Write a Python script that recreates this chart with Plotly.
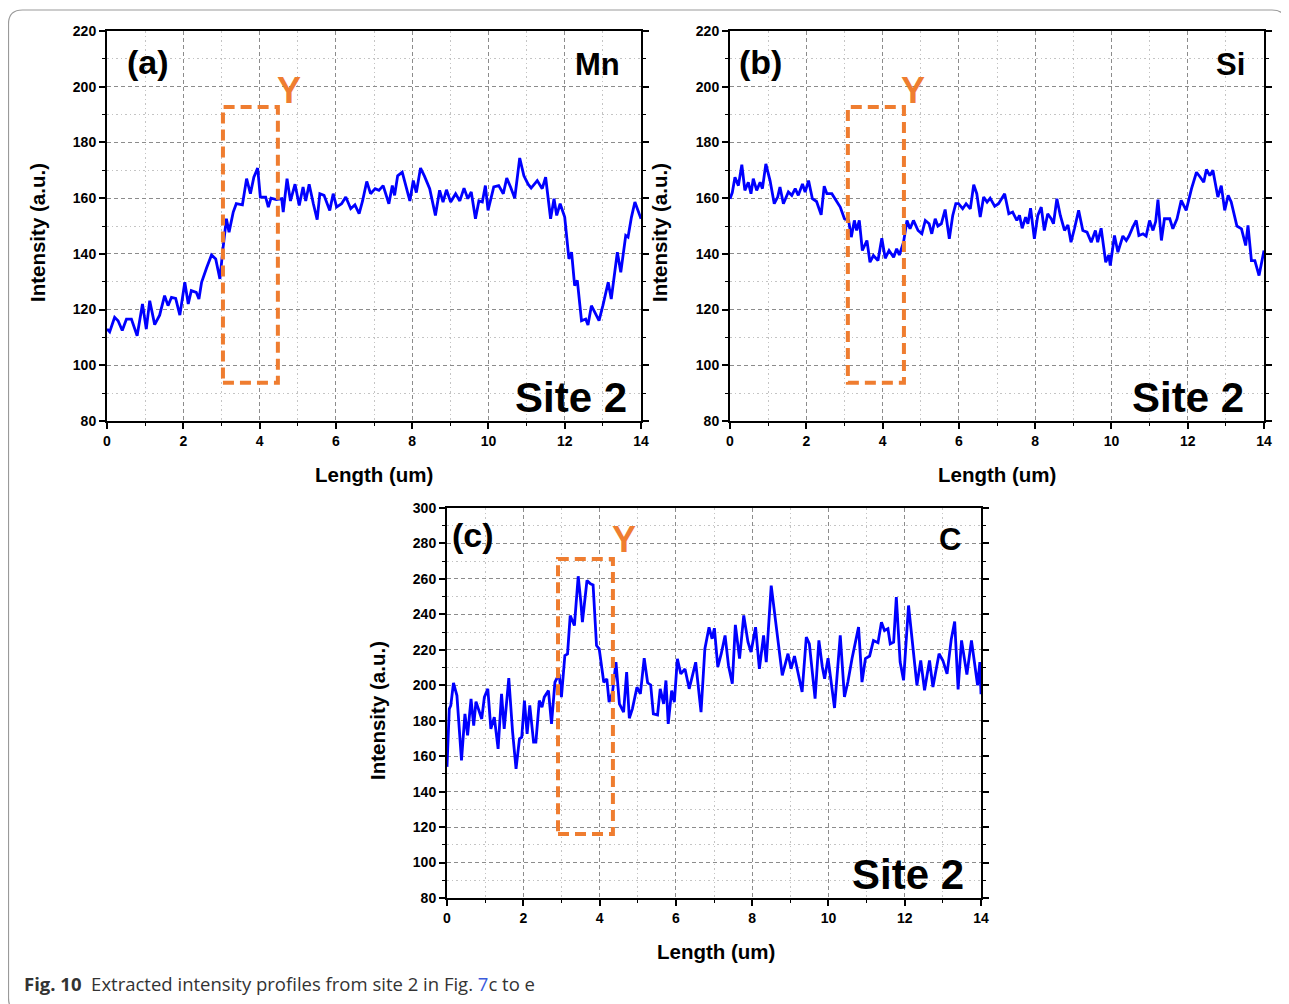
import plotly.graph_objects as go

# ---------------- data ----------------
a_x = [0.00,0.07,0.20,0.29,0.40,0.51,0.64,0.79,0.93,1.03,1.12,1.25,1.38,1.51,1.60,1.69,1.80,1.91,2.04,2.13,
       2.21,2.34,2.41,2.48,2.61,2.74,2.85,2.96,3.04,3.13,3.20,3.31,3.39,3.55,3.66,3.76,3.85,3.95,4.02,4.16,
       4.23,4.30,4.44,4.58,4.62,4.72,4.81,4.93,5.04,5.14,5.21,5.30,5.41,5.51,5.58,5.69,5.84,5.93,6.02,6.15,
       6.26,6.39,6.50,6.61,6.70,6.81,6.91,7.03,
       7.13,7.24,7.39,7.48,7.54,7.62,7.74,7.83,7.94,8.03,8.11,8.22,8.32,8.46,8.61,8.72,8.81,8.90,9.01,9.14,
       9.25,9.36,9.46,9.55,9.66,9.75,9.84,9.92,9.99,10.14,10.27,10.39,10.48,10.58,10.69,10.82,10.93,11.04,11.12,11.28,
       11.41,11.50,11.63,11.72,11.79,11.88,12.00,12.11,12.18,12.26,12.33,12.44,12.55,12.61,12.70,12.79,12.90,13.00,13.14,13.22,
       13.38,13.47,13.60,13.66,13.75,13.84,13.91,14.00]
a_y = [113,112,117.2,116,112.5,116.6,116.6,110.6,122,113,123.2,114.6,118,125,121.4,124.4,124,118,129.8,122,
       126.8,126.2,123.8,129.8,134.9,139.6,138.2,131,141.8,152.6,147.8,155,158,157.6,167,161.6,167.5,170.8,160.4,160.4,
       156.8,160,159.5,159.8,155,167,159,165,157.4,164,159,165,158,152.3,161.6,161,155.6,161.6,156.8,158,
       160.4,156.2,157.6,154.4,159,166,161.6,163.4,
       162.8,164.5,158,164.5,161,168,169.3,164.5,159,166.3,162,170.8,168,163.4,153.8,162.8,158.6,163,158.6,161.6,
       159,163.6,159.8,162.2,152.6,159,158.6,164.5,155.6,164,164.5,161.6,167.2,164,160,174.4,168,165,163.6,166.3,
       163.4,167.5,152.6,159.8,153.8,158,153.2,138.2,140.6,128.6,130.5,116,116.6,114.5,121.4,119,116,121.4,129.8,123.8,
       140.6,133.4,146.6,146,153.2,158.6,156.2,152.6]

b_x = [0.00,0.06,0.13,0.22,0.31,0.39,0.48,0.55,0.61,0.70,0.79,0.85,0.94,1.05,1.16,1.25,1.31,1.40,1.53,1.62,
       1.71,1.79,1.90,1.97,2.06,2.16,2.27,2.39,2.47,2.54,2.67,2.76,2.89,3.00,3.11,3.18,3.26,3.32,3.39,3.47,
       3.59,3.67,3.76,3.88,3.98,4.07,4.17,4.29,4.37,4.44,4.55,4.64,4.72,4.81,4.93,5.03,5.12,5.22,5.29,5.38,
       5.45,5.54,5.64,5.75,5.84,5.92,5.99,6.10,6.19,6.30,6.39,6.47,6.56,6.65,6.74,6.82,6.94,7.04,
       7.20,7.31,7.41,7.52,7.59,7.66,7.75,7.81,7.88,7.98,8.07,8.16,8.24,8.33,8.42,8.48,8.57,8.66,8.77,8.86,
       8.94,9.03,9.14,9.25,9.36,9.47,9.58,9.64,9.73,9.85,9.93,9.97,10.08,10.17,10.30,10.39,10.46,10.56,10.65,10.72,
       10.83,10.91,11.00,11.09,11.16,11.22,11.31,11.39,11.53,11.61,11.72,11.83,11.96,12.10,12.23,12.33,12.42,12.49,12.58,12.66,
       12.79,12.88,12.97,13.06,13.14,13.29,13.41,13.52,13.58,13.67,13.76,13.87,13.96,14.00]
b_y = [159.8,162,167.5,164.5,172,162.8,165.7,161.6,167,162.8,165.7,163.4,172.3,166.3,158,160.4,164,158,162.2,161,
       163.4,161,165.1,162.2,166.3,159.8,158.8,154,164.3,161.6,161.6,159.8,156.8,152.6,152,146,152,148.4,152,141.2,
       144.8,137,139.4,137.6,145.6,138.4,141.2,138.8,141.8,139.6,144.2,152,149,152,148.4,147.2,152,150.8,147.2,152.6,
       150,150.8,155.9,145.4,153.8,158,158,156.2,158,156.2,164.8,161.6,153.2,160.4,158.6,160,157.1,158,
       161.6,154.4,155,152,153.8,149.2,153.2,150.8,156.4,145.4,153.8,156.8,148.4,154.4,152.6,150.8,159.8,153.8,148.4,150.4,
       144.2,149,155.6,148.4,147.8,144.2,148.4,144.2,149.2,137,139.6,135.8,146.6,140.6,146.4,144.8,146.4,149.6,152,146.6,
       147.2,146.4,152,148.4,151.6,159.5,144.8,152.6,152.6,149,152.6,159.2,155.6,163.4,169.3,167.5,165.7,170.3,168.1,170,
       160.4,164.5,155.6,161,158.6,150,149,143,150.2,137.6,137.6,132.2,138.2,141.2]

c_x = [0.00,0.06,0.10,0.17,0.26,0.38,0.47,0.54,0.63,0.70,0.76,0.85,0.91,0.98,1.07,1.15,1.24,1.34,1.43,1.50,
       1.62,1.72,1.81,1.90,1.96,2.03,2.10,2.17,2.27,2.33,2.42,2.49,2.55,2.66,2.74,2.83,2.94,3.00,3.09,3.16,
       3.23,3.34,3.44,3.51,3.55,3.67,3.76,3.83,3.92,3.99,4.11,4.19,4.25,4.34,4.43,4.52,4.63,4.71,4.78,4.86,
       4.98,5.07,5.17,5.26,5.34,5.41,5.52,5.59,5.68,5.74,5.80,5.89,5.96,6.04,6.13,6.24,6.35,6.52,6.66,6.76,6.87,
       6.95,7.01,7.10,7.19,7.29,7.38,7.48,7.56,7.67,7.78,7.89,7.97,8.09,8.19,8.30,8.37,8.50,8.63,8.79,8.94,
       9.02,9.11,9.20,9.31,9.42,9.50,9.65,9.75,9.84,9.90,9.99,10.16,10.31,10.42,10.51,10.62,10.79,10.88,10.97,11.08,
       11.18,11.30,11.39,11.47,11.56,11.62,11.71,11.78,11.88,11.97,12.10,12.20,12.32,12.42,12.52,12.65,12.74,12.90,13.00,13.11,
       13.22,13.31,13.40,13.49,13.63,13.75,13.91,13.97,14.00]
c_y = [154,186.7,188.6,201.4,194.2,157.6,183.9,171.7,192.3,177.3,190.8,184.8,181,193.3,198,175.4,182,164.1,195.2,175.4,
       204,173.5,152.9,169.8,170.7,191.4,172.6,188.6,167.9,167.9,191.4,187.6,193.3,197,178.2,201.7,206.4,193.3,216.8,217.7,
       239.3,233.7,261.5,246.8,235.6,259.1,257.2,256.6,222.4,220.5,201.7,203.6,190.5,196.1,213,189.5,184.8,207.4,181.4,186.7,
       198.9,195.2,215.3,201.4,200.2,183.9,183.3,198,189.5,202.7,178.2,197,190.5,214.9,206.4,209.2,198,213,184.8,220.5,232.7,
       226.2,232.2,210.3,217.8,228.1,211.2,200.9,234.1,215,239.4,224.4,218.7,232.8,209.3,228.1,213.1,256.2,233.7,205.6,217.8,
       209.3,216.5,207.5,196.2,227.2,223.4,192.5,225.3,210.3,203.7,215.3,187.2,228.1,193.4,201.8,215.3,232.8,201.8,215,216.5,
       225.3,224,235.6,230.9,231.9,223.4,224.4,249.7,213.1,202.8,245,223.4,200,214,197.2,214,199,217.8,214,206.5,
       225.9,236,197.7,225.3,206,225.3,200,213.1,195]

# dashed "Y" region boxes: [x0, x1, y0, y1]
box_a = [3.04, 4.48, 93.7, 192.7]
box_b = [3.09, 4.56, 93.7, 192.7]
box_c = [2.91, 4.35, 116.1, 271.2]

panel_labels = ["(a)", "(b)", "(c)"]
element_labels = ["Mn", "Si", "C"]
site_label = "Site 2"
x_title = "Length (um)"
y_title = "Intensity (a.u.)"

# ---------------- layout helpers ----------------
# the page body has an 8px margin, so map screen pixels to paper coords with that offset
OFF = 8
W, H = 1281, 996
def px(x):
    return (x - OFF) / W
def py(y):
    return 1 - (y - OFF) / H

LINE = "#0000ff"
ORANGE = "#ef7d30"
TICKFONT = dict(family="Liberation Sans, Arial", size=14, color="black", weight="bold")

fig = go.Figure()
fig.add_trace(go.Scatter(x=a_x, y=a_y, mode="lines", line=dict(color=LINE, width=2.8), xaxis="x", yaxis="y", showlegend=False))
fig.add_trace(go.Scatter(x=b_x, y=b_y, mode="lines", line=dict(color=LINE, width=2.8), xaxis="x2", yaxis="y2", showlegend=False))
fig.add_trace(go.Scatter(x=c_x, y=c_y, mode="lines", line=dict(color=LINE, width=2.8), xaxis="x3", yaxis="y3", showlegend=False))

def xax(dom, anchor):
    return dict(domain=dom, anchor=anchor, range=[0, 14], dtick=2, tick0=0,
                ticks="outside", ticklen=6, tickwidth=1.5, tickcolor="black",
                showline=True, linewidth=2, linecolor="black", mirror=True,
                showgrid=True, gridcolor="#8c8c8c", gridwidth=1, griddash="4px,3px",
                minor=dict(dtick=1, tick0=0, ticks="outside", ticklen=3, tickwidth=1.2, tickcolor="black",
                           showgrid=True, gridcolor="#c4c4c4", gridwidth=1, griddash="1.5px,3px"),
                zeroline=False, tickfont=TICKFONT, fixedrange=True, automargin=False)

def yax(dom, anchor, rng):
    return dict(domain=dom, anchor=anchor, range=rng, dtick=20, tick0=80,
                ticks="outside", ticklen=6, tickwidth=1.5, tickcolor="black",
                showline=True, linewidth=2, linecolor="black", mirror="ticks",
                showgrid=True, gridcolor="#8c8c8c", gridwidth=1, griddash="4px,3px",
                minor=dict(dtick=10, tick0=80, ticks="outside", ticklen=3, tickwidth=1.2, tickcolor="black",
                           showgrid=True, gridcolor="#c4c4c4", gridwidth=1, griddash="1.5px,3px"),
                zeroline=False, tickfont=TICKFONT, fixedrange=True, automargin=False)

fig.update_layout(
    width=W, height=H, margin=dict(l=0, r=0, t=0, b=0, pad=0, autoexpand=False),
    paper_bgcolor="white", plot_bgcolor="white",
    xaxis=xax([px(107), px(641)], "y"),
    yaxis=yax([py(421), py(31)], "x", [80, 220]),
    xaxis2=xax([px(730), px(1264)], "y2"),
    yaxis2=yax([py(421), py(31)], "x2", [80, 220]),
    xaxis3=xax([px(447), px(981)], "y3"),
    yaxis3=yax([py(898), py(508)], "x3", [80, 300]),
)

shapes = []
for box, xr, yr in [(box_a, "x", "y"), (box_b, "x2", "y2"), (box_c, "x3", "y3")]:
    shapes.append(dict(type="rect", xref=xr, yref=yr, x0=box[0], x1=box[1], y0=box[2], y1=box[3],
                       line=dict(color=ORANGE, width=4, dash="11px,6px"), fillcolor="rgba(0,0,0,0)", layer="above"))

# outer rounded frame
L, T, R, B, r = 8.5, 10, 1286, 1012, 14
path = (f"M {px(L)},{py(T + r)} Q {px(L)},{py(T)} {px(L + r)},{py(T)} "
        f"L {px(R - r)},{py(T)} Q {px(R)},{py(T)} {px(R)},{py(T + r)} "
        f"L {px(R)},{py(B - r)} Q {px(R)},{py(B)} {px(R - r)},{py(B)} "
        f"L {px(L + r)},{py(B)} Q {px(L)},{py(B)} {px(L)},{py(B - r)} Z")
shapes.append(dict(type="path", xref="paper", yref="paper", path=path,
                   line=dict(color="#9a9a9a", width=1.2), fillcolor="rgba(0,0,0,0)"))
fig.update_layout(shapes=shapes)

BOLD = "Liberation Sans, Arial"
ann = []
panels = [("x", "y"), ("x2", "y2"), ("x3", "y3")]
lab_pos = [
    dict(p=(1.07, 208.9), e=(12.87, 207.8), s=(12.17, 88.3), yl=(4.77, 198.8)),
    dict(p=(0.81, 208.9), e=(13.11, 207.8), s=(12.01, 88.3), yl=(4.80, 198.8)),
    dict(p=(0.68, 284.8), e=(13.19, 282.0), s=(12.09, 93.0), yl=(4.64, 282.0)),
]
for i, (xr, yr) in enumerate(panels):
    lp = lab_pos[i]
    ann.append(dict(xref=xr, yref=yr, x=lp["p"][0], y=lp["p"][1], text=panel_labels[i], showarrow=False,
                    font=dict(family=BOLD, size=34, color="black", weight="bold"), xanchor="center", yanchor="middle"))
    ann.append(dict(xref=xr, yref=yr, x=lp["e"][0], y=lp["e"][1], text=element_labels[i], showarrow=False,
                    font=dict(family=BOLD, size=31, color="black", weight="bold"), xanchor="center", yanchor="middle"))
    ann.append(dict(xref=xr, yref=yr, x=lp["s"][0], y=lp["s"][1], text=site_label, showarrow=False,
                    font=dict(family=BOLD, size=42, color="black", weight="bold"), xanchor="center", yanchor="middle"))
    ann.append(dict(xref=xr, yref=yr, x=lp["yl"][0], y=lp["yl"][1], text="Y", showarrow=False,
                    font=dict(family=BOLD, size=36, color=ORANGE, weight="bold"), xanchor="center", yanchor="middle"))

for (tx, ty) in [(37, 233), (659, 233), (377, 711)]:
    ann.append(dict(xref="paper", yref="paper", x=px(tx), y=py(ty), text=y_title, textangle=-90, showarrow=False,
                    font=dict(family=BOLD, size=20.5, color="black", weight="bold"), xanchor="center", yanchor="middle"))
for (tx, ty) in [(374, 474), (997, 474), (716, 951)]:
    ann.append(dict(xref="paper", yref="paper", x=px(tx), y=py(ty), text=x_title, showarrow=False,
                    font=dict(family=BOLD, size=20.5, color="black", weight="bold"), xanchor="center", yanchor="middle"))

ann.append(dict(xref="paper", yref="paper", x=px(22), y=py(983), xanchor="left", yanchor="middle", showarrow=False,
                text="<b>Fig. 10</b>  Extracted intensity profiles from site 2 in Fig. <span style='color:#3b5bdb'>7</span>c to e",
                font=dict(family="Open Sans, Noto Sans", size=18.5, color="#333333")))
fig.update_layout(annotations=ann)

fig.write_html("out.html")
